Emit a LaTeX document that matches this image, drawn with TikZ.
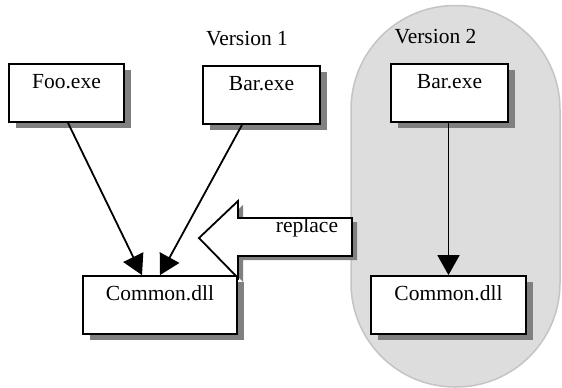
\documentclass[tikz,border=0pt]{standalone}
\usepackage{fontspec}
\setmainfont{Liberation Serif}
\usetikzlibrary{arrows.meta,calc}
\definecolor{capfill}{HTML}{DDDDDD}
\definecolor{capline}{HTML}{C4C4C4}
\definecolor{shade}{HTML}{808080}
\newcommand{\diafont}{\rmfamily\fontsize{21.5}{24}\selectfont}
\begin{document}
\begin{tikzpicture}[x=1pt,y=-1pt,
  every node/.style={font=\diafont},
  boxshadow/.style={preaction={fill=shade,draw=none,transform canvas={shift={(7pt,-6pt)}}}},
  filebox/.style={draw,line width=1.8pt,fill=white,boxshadow,font=\diafont,
    text height=15pt,text depth=25pt,inner ysep=9pt,inner xsep=0pt},
  dep/.style={line width=1.8pt,-{Triangle[length=20pt,width=22pt]}},
  caption/.style={anchor=base,inner sep=0pt,font=\diafont}]
\useasboundingbox (0,0) rectangle (562,388);
% version 2 capsule
\path[fill=capfill,draw=capline,line width=1.5pt,rounded corners=104pt]
  (351,5.5) rectangle (560,387);
% boxes
\node[filebox,minimum width=115pt] (foo) at (66.5,93) {Foo.exe};
\node[filebox,minimum width=117pt] (bar1) at (261.5,95) {Bar.exe};
\node[filebox,minimum width=154pt] (com1) at (160,305) {Common.dll};
\node[filebox,minimum width=117pt] (bar2) at (449.5,93) {Bar.exe};
\node[filebox,minimum width=155pt] (com2) at (448.5,305) {Common.dll};
% labels
\node[caption] (v1) at (247,45) {Version 1};
\node[caption] (v2) at (435.5,43) {Version 2};
% dependencies
\draw[dep] ($(foo.south)+(1.5,0)$) -- ($(com1.north)+(-18,0)$);
\draw[dep] ($(bar1.south)+(-19.5,0)$) -- (com1.north);
\draw[dep] ($(bar2.south)+(-1,0)$) -- (com2.north);
% replace block arrow
\path[draw,line width=1.8pt,fill=white,
  preaction={fill=shade,draw=none,transform canvas={shift={(5pt,-4pt)}}}]
  (199,238) -- (238,201) -- (238,218) -- (352,218) -- (352,256)
  -- (238,256) -- (238,278) -- cycle;
\node[caption] (rep) at (307,232) {replace};
\end{tikzpicture}
\end{document}
